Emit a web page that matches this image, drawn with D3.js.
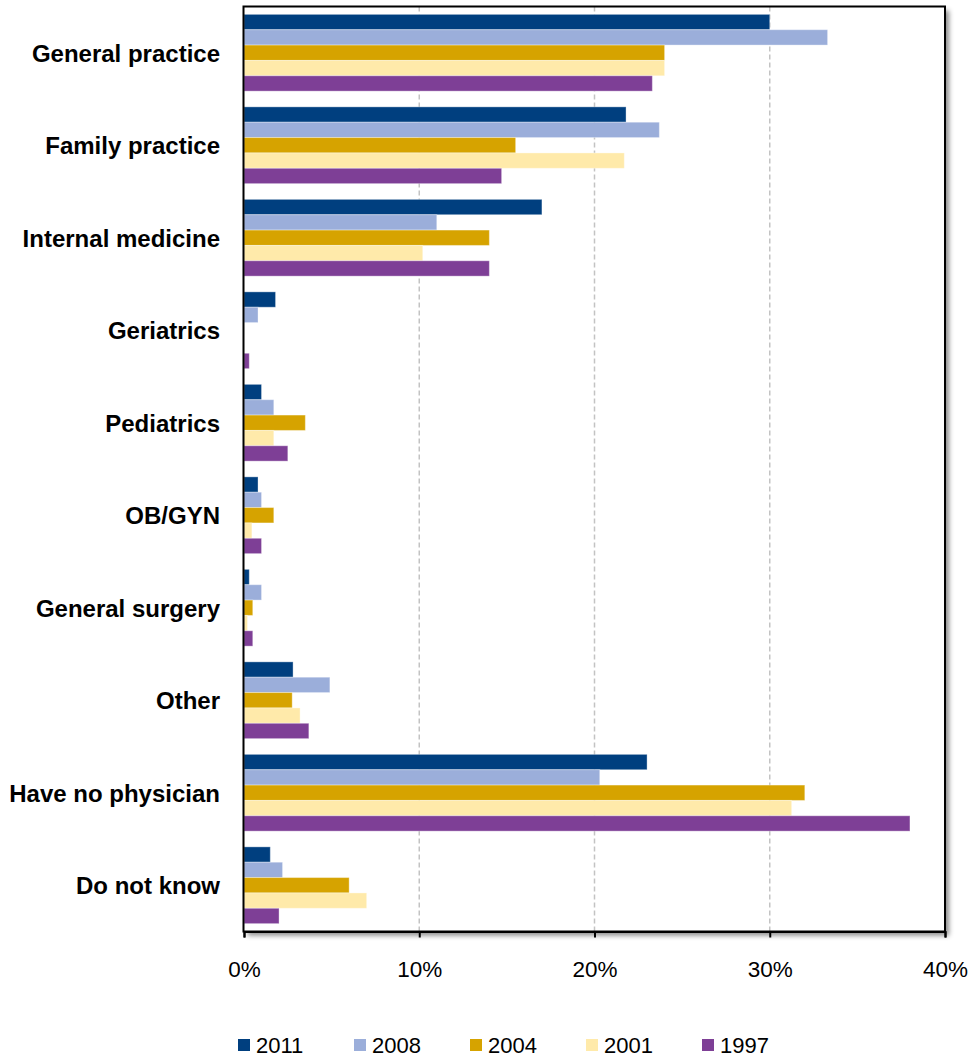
<!DOCTYPE html>
<html>
<head>
<meta charset="utf-8">
<script src="https://cdn.jsdelivr.net/npm/d3@7/dist/d3.min.js"></script>
<style>
html,body{margin:0;padding:0;background:#fff;}
svg{display:block;}
</style>
</head>
<body>
<svg id="chart" width="971" height="1058"></svg>
<script>
const categories = ["General practice","Family practice","Internal medicine","Geriatrics","Pediatrics","OB/GYN","General surgery","Other","Have no physician","Do not know"];
const seriesNames = ["2011","2008","2004","2001","1997"];
const values2011 = [30.0, 21.8, 17.0, 1.8, 1.0, 0.8, 0.3, 2.8, 23.0, 1.5];
const values2008 = [33.3, 23.7, 11.0, 0.8, 1.7, 1.0, 1.0, 4.9, 20.3, 2.2];
const values2004 = [24.0, 15.5, 14.0, 0.0, 3.5, 1.7, 0.5, 2.75, 32.0, 6.0];
const values2001 = [24.0, 21.7, 10.2, 0.0, 1.7, 0.45, 0.2, 3.2, 31.25, 7.0];
const values1997 = [23.3, 14.7, 14.0, 0.3, 2.5, 1.0, 0.5, 3.7, 38.0, 2.0];
const tickValues = [0, 10, 20, 30, 40];
const colors = ["#003F7F", "#9BAEDA", "#D6A300", "#FFEAAA", "#7E3F96"];

const seriesValues = [values2011, values2008, values2004, values2001, values1997];

(function () {
const svg = d3.select("#chart");
const pLeft = 244, pRight = 945, pTop = 6.5, pBottom = 931.5;

const x = d3.scaleLinear().domain([0, 40]).range([pLeft, pRight]);
const y = d3.scaleBand().domain(categories).range([pTop, pBottom]).paddingInner(0.17).paddingOuter(0.085);
const ySub = d3.scaleBand().domain(seriesNames).range([0, y.bandwidth()]);

const defs = svg.append("defs");
const filt = defs.append("filter").attr("id","shadow").attr("x","-5%").attr("y","-5%").attr("width","115%").attr("height","115%");
filt.append("feDropShadow").attr("dx",4).attr("dy",4).attr("stdDeviation",2.5).attr("flood-color","#000").attr("flood-opacity",0.45);

svg.append("rect")
  .attr("x", pLeft - 0.5).attr("y", pTop).attr("width", pRight - pLeft + 0.5).attr("height", pBottom - pTop)
  .attr("fill", "#fff").attr("filter", "url(#shadow)");

svg.append("g").selectAll("line")
  .data(tickValues.filter(d => d > 0 && d < 40))
  .join("line")
  .attr("x1", d => x(d)).attr("x2", d => x(d))
  .attr("y1", pTop).attr("y2", pBottom)
  .attr("stroke", "#C3C3C3").attr("stroke-width", 1.5).attr("stroke-dasharray", "5,3");

const groups = svg.append("g").selectAll("g")
  .data(categories)
  .join("g")
  .attr("transform", d => `translate(0,${y(d)})`);

groups.selectAll("rect")
  .data((c, i) => seriesNames.map((s, j) => ({series: s, value: seriesValues[j][i], color: colors[j]})))
  .join("rect")
  .attr("x", x(0))
  .attr("y", d => ySub(d.series))
  .attr("width", d => Math.max(0, x(d.value) - x(0)))
  .attr("height", ySub.bandwidth())
  .attr("fill", d => d.color)
  .attr("stroke", "rgba(255,255,255,0.35)")
  .attr("stroke-width", 1)
  .attr("display", d => d.value > 0 ? null : "none");

svg.append("rect")
  .attr("x", pLeft - 0.5).attr("y", pTop).attr("width", pRight - pLeft + 0.5).attr("height", pBottom - pTop)
  .attr("fill", "none").attr("stroke", "#000").attr("stroke-width", 2);

const xAxis = d3.axisBottom(x).tickValues(tickValues).tickFormat(d => d + "%").tickSize(6).tickPadding(24);
const gx = svg.append("g").attr("transform", `translate(0,${pBottom})`).call(xAxis);
gx.select(".domain").attr("stroke", "#000").attr("stroke-width", 2);
gx.selectAll(".tick line").attr("stroke", "#000").attr("stroke-width", 2);
gx.selectAll(".tick text")
  .attr("fill", "#000")
  .style("font-family", "'Liberation Sans',Arial,sans-serif")
  .style("font-size", "22.5px");

const yAxis = d3.axisLeft(y).tickSize(0).tickPadding(24);
const gy = svg.append("g").attr("transform", `translate(${pLeft},1.5)`).call(yAxis);
gy.select(".domain").remove();
gy.selectAll(".tick text")
  .attr("fill", "#000")
  .style("font-family", "'Liberation Sans',Arial,sans-serif")
  .style("font-weight", "bold")
  .style("font-size", "24px");

const legend = svg.append("g").attr("transform", "translate(238,1039)");
const lx = d3.scalePoint().domain(seriesNames).range([0, 464]);
const li = legend.selectAll("g").data(seriesNames).join("g")
  .attr("transform", d => `translate(${lx(d)},0)`);
li.append("rect").attr("width", 12).attr("height", 12).attr("y", 0)
  .attr("fill", (d, i) => colors[i]);
li.append("text").attr("x", 18).attr("y", 13.5).text(d => d)
  .style("font-family", "'Liberation Sans',Arial,sans-serif")
  .style("font-size", "22px").attr("fill", "#000");
})();
</script>
</body>
</html>
